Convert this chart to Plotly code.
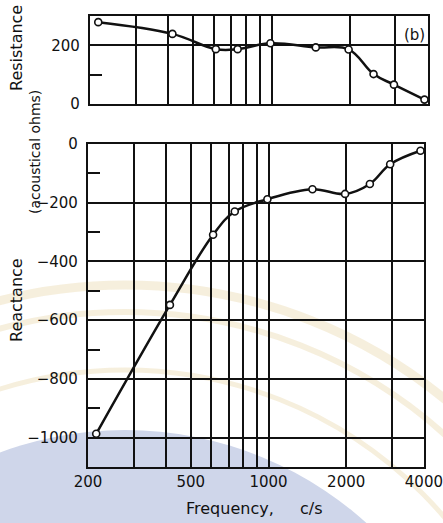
import math
import plotly.graph_objects as go

# Measured acoustic impedance of the ear, curve (b)
freq = [215, 415, 610, 740, 990, 1480, 1980, 2470, 2960, 3880]          # c/s
resistance = [279, 239, 187, 187, 207, 193, 186, 102, 66, 15]           # acoustical ohms
reactance = [-987, -548, -309, -230, -188, -154, -170, -136, -69, -23]  # acoustical ohms

grid_freqs = [200, 300, 400, 500, 600, 700, 800, 900, 1000, 2000, 3000, 4000]
freq_labels = ["200", "", "", "500", "", "", "", "", "1000", "2000", "", "4000"]

res_ticks = [0, 200]
res_minor = [100]
rea_ticks = [-1000, -800, -600, -400, -200, 0]
rea_minor = [-900, -700, -500, -300, -100]

W, H = 443, 523
INK = "#111111"
FONT = "DejaVu Sans"


def fx(p):
    return p / W


def fy(p):
    return 1 - p / H


fig = go.Figure()

line_style = dict(color=INK, width=2.5, shape="spline", smoothing=1.1)
marker_style = dict(size=7, color="white", line=dict(color=INK, width=1.6))

fig.add_trace(go.Scatter(x=freq, y=resistance, xaxis="x2", yaxis="y2",
                         mode="lines+markers", line=line_style,
                         marker=marker_style, showlegend=False))
fig.add_trace(go.Scatter(x=freq, y=reactance, xaxis="x", yaxis="y",
                         mode="lines+markers", line=line_style,
                         marker=marker_style, showlegend=False))

xrange = [math.log10(200) - 0.0004, math.log10(4000) + 0.0004]
common_x = dict(type="log", range=xrange, tickmode="array", tickvals=grid_freqs,
                showgrid=True, gridcolor=INK, gridwidth=1.8, showline=True,
                linecolor=INK, linewidth=2.2, mirror=True, zeroline=False,
                automargin=False, fixedrange=True)
common_y = dict(showgrid=True, gridcolor=INK, gridwidth=1.8, showline=True,
                linecolor=INK, linewidth=2.2, mirror=True, zeroline=False,
                automargin=False, ticks="outside", ticklen=5,
                tickcolor="rgba(0,0,0,0)",
                tickfont=dict(family=FONT, size=15, color=INK))

fig.update_layout(
    width=W, height=H,
    margin=dict(l=0, r=0, t=0, b=0),
    paper_bgcolor="white",
    plot_bgcolor="rgba(0,0,0,0)",
    font=dict(family=FONT, color=INK),
    xaxis=dict(common_x, domain=[fx(88), fx(424)], anchor="y",
               ticktext=freq_labels, ticks="",
               tickfont=dict(family=FONT, size=15, color=INK)),
    xaxis2=dict(common_x, domain=[fx(90), fx(428)], anchor="y2",
                showticklabels=False, ticks=""),
    yaxis=dict(common_y, domain=[fy(467), fy(144)], anchor="x",
               range=[-1100, 0], tickmode="array", tickvals=rea_ticks,
               ticktext=[("\u2212" + str(-v)) if v < 0 else str(v) for v in rea_ticks],
               minor=dict(tickmode="array", tickvals=rea_minor, ticks="inside",
                          ticklen=12, tickwidth=2, tickcolor=INK, showgrid=False)),
    yaxis2=dict(common_y, domain=[fy(104), fy(16)], anchor="x2",
                range=[0, 300], tickmode="array", tickvals=res_ticks,
                ticktext=[str(v) for v in res_ticks],
                minor=dict(tickmode="array", tickvals=res_minor, ticks="inside",
                           ticklen=12, tickwidth=2, tickcolor=INK, showgrid=False)),
)

# faint background emblem: pale blue disc and beige rings
cx, cy = 125, 790
r_blue = 360
fig.add_shape(type="circle", xref="paper", yref="paper", layer="below",
              x0=fx(cx - r_blue), x1=fx(cx + r_blue),
              y0=fy(cy + r_blue), y1=fy(cy - r_blue),
              fillcolor="#cfd6ea", line=dict(width=0))
for r, w in [(505, 9), (478, 6), (420, 5)]:
    fig.add_shape(type="circle", xref="paper", yref="paper", layer="below",
                  x0=fx(cx - r), x1=fx(cx + r), y0=fy(cy + r), y1=fy(cy - r),
                  fillcolor="rgba(0,0,0,0)",
                  line=dict(color="rgba(232,214,170,0.4)", width=w))

# axis titles and panel tag
notes = [
    dict(text="Resistance", x=fx(17), y=fy(48), textangle=-90, size=16),
    dict(text="(acoustical ohms)", x=fx(35), y=fy(152), textangle=-90, size=14),
    dict(text="Reactance", x=fx(16), y=fy(300), textangle=-90, size=16),
    dict(text="Frequency,", x=fx(230), y=fy(508), textangle=0, size=16),
    dict(text="c/s", x=fx(311), y=fy(508), textangle=0, size=16),
    dict(text="(b)", x=fx(414), y=fy(35), textangle=0, size=15),
]
for n in notes:
    fig.add_annotation(text=n["text"], x=n["x"], y=n["y"], xref="paper",
                       yref="paper", showarrow=False, textangle=n["textangle"],
                       xanchor="center", yanchor="middle",
                       font=dict(family=FONT, size=n["size"], color=INK))

fig.write_html("out.html")
